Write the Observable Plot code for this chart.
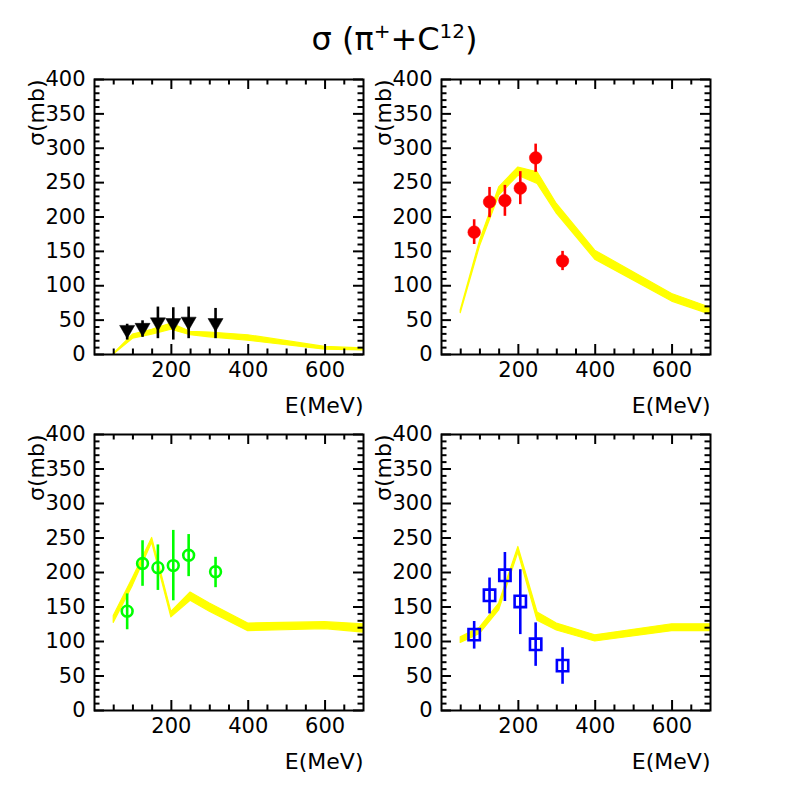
<!DOCTYPE html>
<html><head><meta charset="utf-8">
<script src="https://cdn.jsdelivr.net/npm/d3@7"></script>
<script src="https://cdn.jsdelivr.net/npm/@observablehq/plot@0.6"></script>
<style>
body{margin:0;background:#fff;}
#wrap{position:relative;width:789px;height:789px;overflow:hidden;font-family:"DejaVu Sans",sans-serif;color:#000;}
#title{position:absolute;left:0;width:789px;top:23px;text-align:center;font-size:32px;line-height:32px;white-space:nowrap;}
#title .sup{position:relative;top:-12px;font-size:20px;}
.panel{position:absolute;}
</style></head><body>
<div id="wrap"><div id="title">σ (π<span class="sup">+</span>+C<span class="sup">12</span>)</div></div>
<script>
// ---- data ----
const energy = [85, 125, 165, 205, 245, 315];
const bandE = [50, 100, 150, 200, 250, 300, 400, 600, 700];

// panel 1 (black, down triangles)
const p1y  = [36, 39, 47, 46, 48, 46];
const p1lo = [21, 25, 23, 21, 23, 23];
const p1hi = [44, 49, 69, 68, 69, 67];
const b1lo = [0, 23, 29, 36, 28, 25, 20, 7, 6];
const b1hi = [1, 29, 36, 45, 33, 32, 28, 11, 9];

// panel 2 (red, filled circles)
const p2y  = [178, 222, 224, 242, 286, 136];
const p2lo = [160, 199, 201, 218, 265, 122];
const p2hi = [196, 243, 246, 266, 306, 150];
const b2lo = [60, 157, 231, 260, 248, 205, 138, 77, 58];
const b2hi = [64, 165, 243, 272, 265, 219, 151, 88, 68];

// panel 3 (green, open circles)
const p3y  = [144, 213, 207, 210, 225, 201];
const p3lo = [117, 180, 174, 159, 194, 178];
const p3hi = [169, 246, 240, 261, 255, 222];
const b3lo = [127, 181, 243, 135, 159, 143, 115, 118, 113];
const b3hi = [137, 192, 250, 143, 171, 155, 126, 128, 125];

// panel 4 (blue, open squares)
const p4y  = [110, 167, 196, 158, 96, 65];
const p4lo = [89, 140, 158, 110, 64, 38];
const p4hi = [129, 192, 229, 204, 127, 91];
const b4lo = [98, 111, 145, 229, 130, 116, 100, 115, 115];
const b4hi = [106, 120, 155, 237, 142, 126, 109, 125, 125];

// axes
const xLabels = [200, 400, 600];
const xMinor = [50, 100, 150, 250, 300, 350, 450, 500, 550, 650];
const yLabels = [0, 50, 100, 150, 200, 250, 300, 350, 400];
const yMinor = d3.range(10, 400, 10).filter(v => v % 50 !== 0);
const xTitle = "E(MeV)";
const yTitle = "σ(mb)";

function panel(left, top, fh, o) {
  const band = bandE.map((e, i) => ({e, lo: o.blo[i], hi: o.bhi[i]}));
  const pts = energy.map((e, i) => ({e, y: o.y[i], lo: o.lo[i], hi: o.hi[i]}));
  const fw = 269;
  const H = 350, mt = 15, mb = H - mt - fh;
  const MAJ = 10, MIN = 5.5;
  const tk = {stroke: "black", strokeWidth: 2};
  const svg = Plot.plot({
    width: 394, height: H,
    marginLeft: 94, marginRight: 31, marginTop: mt, marginBottom: mb,
    x: {domain: [0, 700]},
    y: {domain: [0, 400]},
    style: {background: "transparent", fontFamily: "DejaVu Sans", fontSize: "21px", color: "black", overflow: "visible"},
    marks: [
      Plot.areaY(band, {x: "e", y1: "lo", y2: "hi", fill: "#ffff00", stroke: "#ffff00", strokeWidth: 1.2}),
      Plot.ruleX(pts, {x: "e", y1: "lo", y2: "hi", stroke: o.color, strokeWidth: 2.6}),
      Plot.dot(pts, {x: "e", y: "y", symbol: o.symbol, r: o.r, fill: o.fill, stroke: o.color, strokeWidth: o.sw, rotate: o.rotate || 0}),
      // x ticks bottom/top
      Plot.tickX(xLabels, {x: d => d, insetTop: fh - MAJ, ...tk}),
      Plot.tickX(xMinor, {x: d => d, insetTop: fh - MIN, ...tk}),
      Plot.tickX(xLabels, {x: d => d, insetBottom: fh - MAJ, ...tk}),
      Plot.tickX(xMinor, {x: d => d, insetBottom: fh - MIN, ...tk}),
      // y ticks left/right
      Plot.tickY(yLabels, {y: d => d, insetRight: fw - MAJ, ...tk}),
      Plot.tickY(yMinor, {y: d => d, insetRight: fw - MIN, ...tk}),
      Plot.tickY(yLabels, {y: d => d, insetLeft: fw - MAJ, ...tk}),
      Plot.tickY(yMinor, {y: d => d, insetLeft: fw - MIN, ...tk}),
      Plot.frame({stroke: "black", strokeWidth: 2}),
      Plot.axisX({ticks: xLabels, tickSize: 0, tickPadding: 8, label: null, fontSize: 21}),
      Plot.axisY({ticks: yLabels, tickSize: 0, tickPadding: 9, label: null, fontSize: 21}),
      Plot.text([xTitle], {text: d => d, frameAnchor: "bottom-right", dy: 58, textAnchor: "end", fontSize: 22}),
      Plot.text([yTitle], {text: d => d, frameAnchor: "top-left", dx: -66, rotate: -90, textAnchor: "end", fontSize: 22})
    ]
  });
  svg.classList.add("panel");
  svg.style.left = left + "px";
  svg.style.top = top + "px";
  document.getElementById("wrap").appendChild(svg);
}

panel(0, 64, 275, {y: p1y, lo: p1lo, hi: p1hi, blo: b1lo, bhi: b1hi, color: "black", symbol: "triangle", r: 5.6, fill: "black", sw: 0.5, rotate: 180});
panel(347, 64, 275, {y: p2y, lo: p2lo, hi: p2hi, blo: b2lo, bhi: b2hi, color: "#ff0000", symbol: "circle", r: 6.3, fill: "#ff0000", sw: 0.5});
panel(0, 419, 276, {y: p3y, lo: p3lo, hi: p3hi, blo: b3lo, bhi: b3hi, color: "#00ff00", symbol: "circle", r: 5.4, fill: "none", sw: 2.6});
panel(347, 419, 276, {y: p4y, lo: p4lo, hi: p4hi, blo: b4lo, bhi: b4hi, color: "#0000ff", symbol: "square", r: 6.4, fill: "none", sw: 2.6});
</script>
</body></html>
